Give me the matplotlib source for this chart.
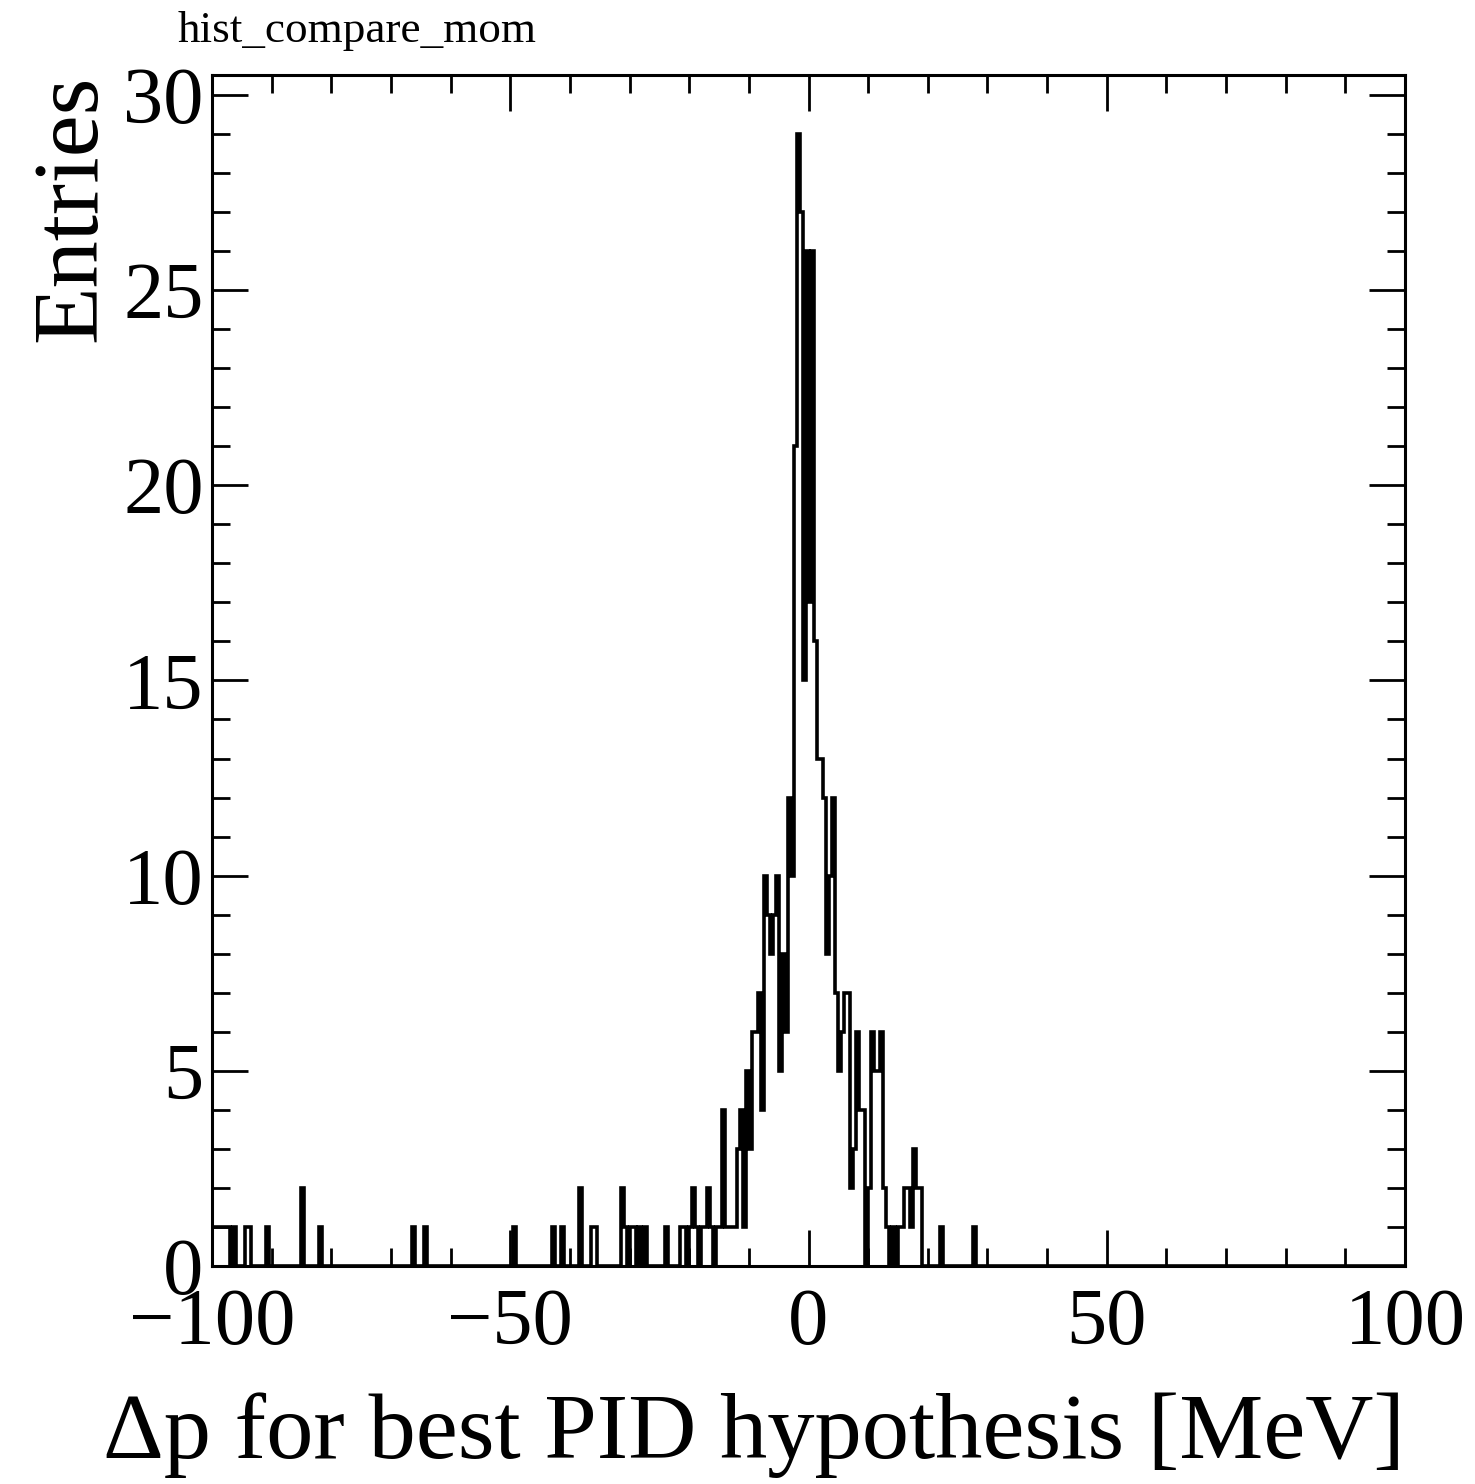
import numpy as np
import matplotlib

matplotlib.use("Agg")
import matplotlib.pyplot as plt
from matplotlib.ticker import MultipleLocator

plt.rcParams["font.family"] = ["Liberation Serif", "DejaVu Serif"]
plt.rcParams["axes.unicode_minus"] = True

# histogram binning: 400 bins of 0.5 MeV
X_LO, X_HI, N_BINS = -100.0, 100.0, 400

# sparse tails: bin centre [MeV] and entries
tail_centres = [-99.75, -99.25, -98.75, -98.25, -97.75, -97.25, -96.25,
                -94.25, -93.75, -90.75, -84.75, -81.75, -66.25, -64.25,
                -49.25, -42.75, -41.25, -38.25, -36.25, -35.75, -31.25,
                -30.75, -29.75, -29.25, -28.25, -27.25, -23.75, 22.25, 27.75]
tail_counts = [1, 1, 1, 1, 1, 1, 1,
               1, 1, 1, 2, 1, 1, 1,
               1, 1, 1, 2, 1, 1, 2,
               1, 1, 1, 1, 1, 1, 1, 1]

# core: consecutive bins starting at -22.0 MeV
core_first_edge = -22.0
core_counts = [
    0, 1, 1, 0, 1, 2, 1, 0, 1, 1,      # -22.0 .. -17.5
    2, 1, 0, 1, 1, 4, 1, 1, 1, 1,      # -17.0 .. -12.5
    3, 4, 1, 5, 3, 6, 6, 7, 4, 10,     # -12.0 .. -7.5
    9, 8, 9, 10, 5, 8, 6, 12, 10, 21,  # -7.0 .. -2.5
    29, 27, 15, 26, 17, 26, 16, 13, 13, 12,  # -2.0 .. 2.5
    8, 10, 12, 7, 5, 6, 7, 7, 2, 3,    # 3.0 .. 7.5
    6, 4, 4, 0, 2, 6, 5, 5, 6, 2,      # 8.0 .. 12.5
    1, 0, 1, 0, 1, 1, 2, 2, 1, 3,      # 13.0 .. 17.5
    2, 2, 0,                           # 18.0 .. 19.0
]

Y_MAX = 30.51

edges = np.linspace(X_LO, X_HI, N_BINS + 1)
width = edges[1] - edges[0]
counts = np.zeros(N_BINS)
for c, n in zip(tail_centres, tail_counts):
    counts[int((c - X_LO) // width)] += n
start = int(round((core_first_edge - X_LO) / width))
counts[start:start + len(core_counts)] = core_counts

fig = plt.figure(figsize=(14.75, 14.84), dpi=100)
ax = fig.add_axes([212 / 1475, 1 - 1266 / 1484, 1193 / 1475, 1191 / 1484])

ax.stairs(counts, edges, color="black", linewidth=2.6, baseline=0)

ax.set_xlim(X_LO, X_HI)
ax.set_ylim(0, Y_MAX)

for side in ("top", "right", "bottom", "left"):
    ax.spines[side].set_linewidth(2.2)

ax.xaxis.set_major_locator(MultipleLocator(50))
ax.xaxis.set_minor_locator(MultipleLocator(10))
ax.yaxis.set_major_locator(MultipleLocator(5))
ax.yaxis.set_minor_locator(MultipleLocator(1))
ax.tick_params(which="both", direction="in", top=True, right=True, width=2.0)
ax.tick_params(which="major", length=26)
ax.tick_params(which="minor", length=13)
ax.tick_params(axis="x", which="major", labelsize=58, pad=16)
ax.tick_params(axis="y", which="major", labelsize=58, pad=6)

ax.set_xlabel("\u0394p for best PID hypothesis [MeV]", fontsize=68, loc="right")
ax.xaxis.set_label_coords(1.0, -0.106)
ax.set_ylabel("Entries", fontsize=68, loc="top")
ax.yaxis.set_label_coords(-0.081, 1.0)

fig.text(178 / 1475, 1 - 42 / 1484, "hist_compare_mom", fontsize=32.5,
         ha="left", va="baseline")

fig.savefig("out.png", dpi=100)
